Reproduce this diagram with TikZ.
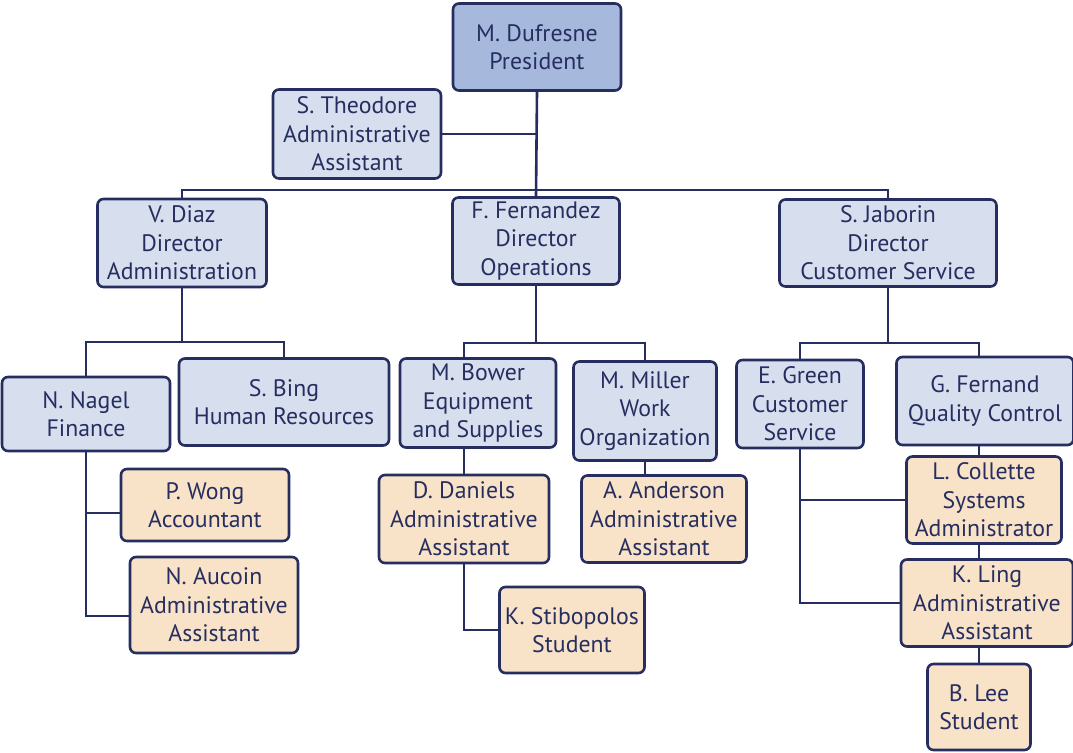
\documentclass[tikz,border=0pt]{standalone}
\usepackage{fontspec}
\setmainfont{PT Sans}
\usetikzlibrary{shapes,backgrounds}

\definecolor{navy}{HTML}{262E60}
\definecolor{presfill}{HTML}{A6B8DC}
\definecolor{mgrfill}{HTML}{D7DFEE}
\definecolor{stafffill}{HTML}{F9E3C8}

\tikzset{
	box/.style={draw=navy, line width=2.6pt, rounded corners=6pt, align=center, text=navy, inner sep=0pt, font=\fontsize{23.8}{28.5}\selectfont},
	pres/.style={box, fill=presfill},
	mgr/.style={box, fill=mgrfill},
	staff/.style={box, fill=stafffill},
	link/.style={draw=navy, line width=2.6pt}
}

\begin{document}
\begin{tikzpicture}[x=1pt, y=-1pt]
	\useasboundingbox (0,0) rectangle (1073,752);
	% top
	\node[pres, minimum width=168, minimum height=87] (dufresne) at (537,47) {M. Dufresne\\President};
	\node[mgr, minimum width=168, minimum height=89] (theodore) at (357,134) {S. Theodore\\Administrative\\Assistant};
	% directors
	\node[mgr, minimum width=169, minimum height=88] (diaz) at (182,243) {V. Diaz\\Director\\Administration};
	\node[mgr, minimum width=167, minimum height=87] (fernandez) at (536,241) {F. Fernandez\\Director\\Operations};
	\node[mgr, minimum width=217, minimum height=87] (jaborin) at (888,243) {S. Jaborin\\Director\\Customer Service};
	% administration
	\node[mgr, minimum width=168, minimum height=74] (nagel) at (86,414) {N. Nagel\\Finance};
	\node[mgr, minimum width=210, minimum height=87] (bing) at (284,402) {S. Bing\\Human Resources};
	\node[staff, minimum width=168, minimum height=72] (wong) at (205,505) {P. Wong\\Accountant};
	\node[staff, minimum width=168, minimum height=96] (aucoin) at (214,605) {N. Aucoin\\Administrative\\Assistant};
	% operations
	\node[mgr, minimum width=156, minimum height=89] (bower) at (478,403) {M. Bower\\Equipment\\and Supplies};
	\node[mgr, minimum width=143, minimum height=99] (miller) at (645,411) {M. Miller\\Work\\Organization};
	\node[staff, minimum width=170, minimum height=88] (daniels) at (464,519) {D. Daniels\\Administrative\\Assistant};
	\node[staff, minimum width=165, minimum height=87] (anderson) at (664,519) {A. Anderson\\Administrative\\Assistant};
	\node[staff, minimum width=145, minimum height=86] (stibopolos) at (572,630) {K. Stibopolos\\Student};
	% customer service
	\node[mgr, minimum width=127, minimum height=88] (green) at (800,404) {E. Green\\Customer\\Service};
	\node[mgr, minimum width=177, minimum height=88] (fernand) at (985,401) {G. Fernand\\Quality Control};
	\node[staff, minimum width=155, minimum height=87] (collette) at (984,500) {L. Collette\\Systems\\Administrator};
	\node[staff, minimum width=172, minimum height=87] (ling) at (987,603) {K. Ling\\Administrative\\Assistant};
	\node[staff, minimum width=103, minimum height=86] (lee) at (979,707) {B. Lee\\Student};

	\begin{scope}[on background layer]
		\coordinate (topbus) at (536,190);
		\coordinate (adminbus) at (182,342);
		\coordinate (opsbus) at (536,343);
		\coordinate (custbus) at (888,343);
		\draw[link] (dufresne.south) -- (fernandez.north);
		\draw[link] (theodore.east) -- (theodore.east -| dufresne.south);
		\draw[link] (diaz.north) |- (topbus) -| (jaborin.north);

		\draw[link] (diaz.south) -- (adminbus);
		\draw[link] (nagel.north) |- (adminbus) -| (bing.north);
		\draw[link] (nagel.south) |- ([yshift=-11pt]aucoin.west);
		\draw[link] ([yshift=-8pt]wong.west) -- ([yshift=-8pt]wong.west -| nagel.south);

		\draw[link] (fernandez.south) -- (opsbus);
		\draw[link] (daniels.north) |- (opsbus) -| (miller.north);
		\draw[link] (daniels.south) |- (stibopolos.west);
		\draw[link] (miller.south) -- (miller.south |- anderson.north);

		\draw[link] (jaborin.south) -- (custbus);
		\draw[link] (green.north) |- (custbus) -| (lee.north);
		\draw[link] (green.south) |- (ling.west);
		\draw[link] (collette.west) -- (collette.west -| green.south);
	\end{scope}
\end{tikzpicture}
\end{document}
